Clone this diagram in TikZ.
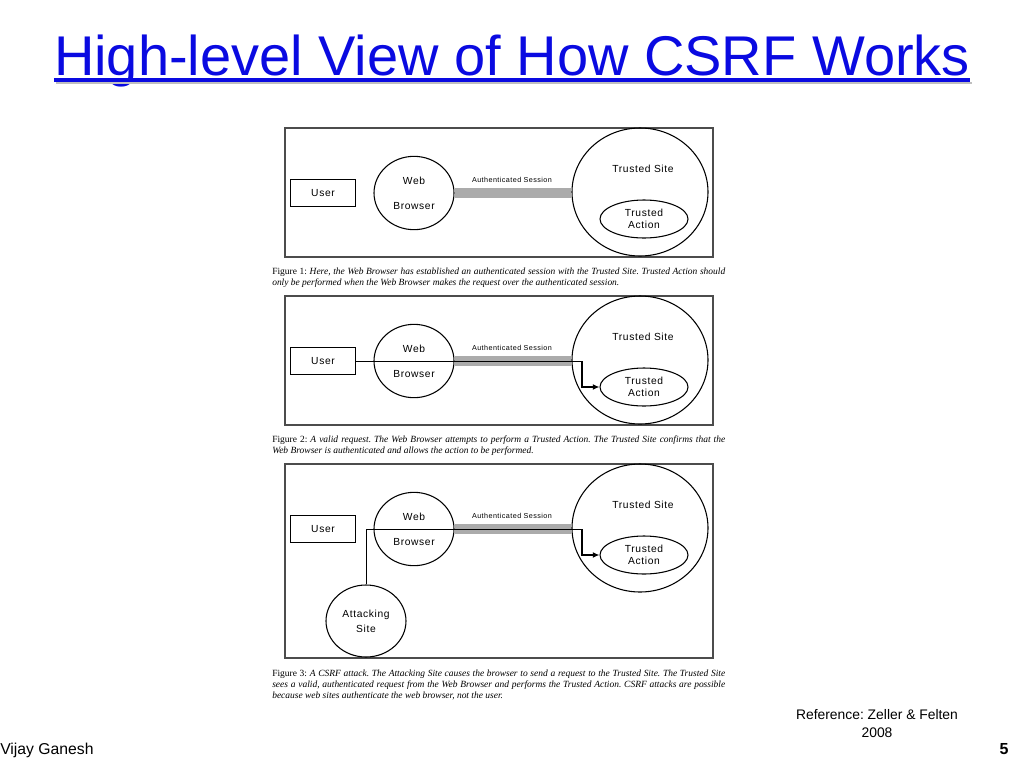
\documentclass[tikz,border=0pt]{standalone}
\usepackage{fontspec}
\setmainfont{Liberation Sans}
\newfontfamily\figfont{Liberation Sans}[LetterSpace=6]
\newfontfamily\capfont{Liberation Serif}
\usetikzlibrary{arrows.meta,calc,shapes.geometric}
\definecolor{titleblue}{RGB}{10,10,225}
\frenchspacing

\tikzset{
  panel/.style={draw=black!70, line width=0.9pt},
  userbox/.style={draw, line width=0.7pt, minimum width=48.75pt, minimum height=20pt, inner sep=0pt},
  bubble/.style={draw, ellipse, line width=0.8pt, inner sep=0pt, align=center},
  session/.style={line width=8pt, draw=black!33},
  req/.style={line width=0.7pt},
  reqdown/.style={line width=1.4pt, -{Latex[length=5pt,width=4.5pt]}},
  caption/.style={anchor=base west, inner sep=0pt, font=\capfont\fontsize{7.1}{8}\selectfont},
}

\begin{document}
\begin{tikzpicture}[x=0.75pt, y=-0.75pt, >=Stealth, font=\figfont\fontsize{7.7}{9}\selectfont]
  \useasboundingbox (0,0) rectangle (1024,768);
  % title
  \node[anchor=base, inner sep=0pt, text=titleblue, font=\fontsize{42}{50}\selectfont] (title) at (512,75) {High-level View of How CSRF Works};
  \draw[black!25, line width=2pt] ($(title.base west)+(2,8)$) -- ($(title.base east)+(2,8)$);
  \draw[titleblue, line width=2.3pt] ($(title.base west)+(0,5)$) -- ($(title.base east)+(0,5)$);
  % the three panels
  \foreach \n/\h in {1/129,2/129,3/194} {
    \pgfmathsetmacro{\dy}{168*(\n-1)}
    \draw[panel] (285,128+\dy) rectangle (713,128+\dy+\h);
    \node[userbox] (user\n) at (323,193+\dy) {User};
    \node[bubble, minimum width=60pt, minimum height=55pt] (web\n) at (414,193+\dy) {Web\\[10pt]Browser};
    \node[bubble, minimum width=102pt, minimum height=96pt] (site\n) at (640,192+\dy) {};
    \node (sitelbl\n) at (643,169+\dy) {Trusted Site};
    \node[bubble, minimum width=66pt, minimum height=28.5pt] (act\n) at (644,219+\dy) {Trusted\\Action};
    \draw[session] (web\n.east) -- (web\n.east -| site\n.west);
    \node[font=\figfont\fontsize{5.4}{6}\selectfont] (auth\n) at (512,180+\dy) {Authenticated Session};
  }
  \node[bubble, minimum width=60pt, minimum height=54pt] (att) at (366,621) {Attacking\\[2pt]Site};
  % valid request
  \coordinate (turn2) at (582,361);
  \draw[req] (user2.east) -- (turn2);
  \draw[reqdown] (turn2) |- (act2.west);
  % forged request
  \coordinate (turn3) at (582,529);
  \draw[req] (att.north) |- (turn3);
  \draw[reqdown] (turn3) |- (act3.west);
  % captions
  \node[caption] (cap1a) at (272,274) {\makebox[339.75pt][s]{Figure 1: \itshape Here, the Web Browser has established an authenticated session with the Trusted Site. Trusted Action should}};
  \node[caption] (cap1b) at (272,285) {\itshape only be performed when the Web Browser makes the request over the authenticated session.};
  \node[caption] (cap2a) at (272,442) {\makebox[339.75pt][s]{Figure 2: \itshape A valid request. The Web Browser attempts to perform a Trusted Action. The Trusted Site confirms that the}};
  \node[caption] (cap2b) at (272,453) {\itshape Web Browser is authenticated and allows the action to be performed.};
  \node[caption] (cap3a) at (272,676) {\makebox[339.75pt][s]{Figure 3: \itshape A CSRF attack. The Attacking Site causes the browser to send a request to the Trusted Site. The Trusted Site}};
  \node[caption] (cap3b) at (272,687) {\makebox[339.75pt][s]{\itshape sees a valid, authenticated request from the Web Browser and performs the Trusted Action. CSRF attacks are possible}};
  \node[caption] (cap3c) at (272,698) {\itshape because web sites authenticate the web browser, not the user.};
  % footer
  \node[anchor=base west, inner sep=0pt, font=\fontsize{11.8}{14}\selectfont] (author) at (0,754) {Vijay Ganesh};
  \node[anchor=base, inner sep=0pt, font=\fontsize{10.4}{13}\selectfont, align=center] (ref) at (877,719) {Reference: Zeller \& Felten};
  \node[anchor=base, inner sep=0pt, font=\fontsize{10.4}{13}\selectfont] (year) at (877,737) {2008};
  \node[anchor=base, inner sep=0pt, font=\bfseries\fontsize{12}{14}\selectfont] (page) at (1004,754) {5};
\end{tikzpicture}
\end{document}
